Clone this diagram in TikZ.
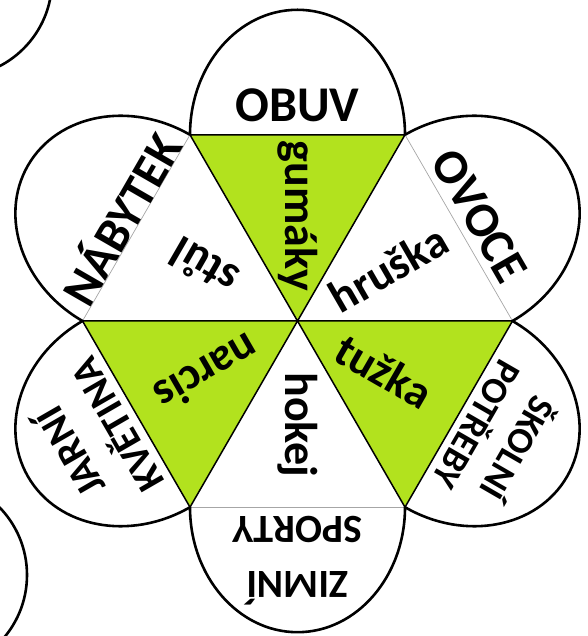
\documentclass[tikz,border=0pt]{standalone}
\usepackage{fontspec}
\setmainfont{Carlito}
\usetikzlibrary{calc}
\definecolor{leaf}{RGB}{178,226,30}
\begin{document}
\begin{tikzpicture}[x=1pt,y=1pt,
  petal/.style={line width=2.6pt},
  spoke/.style={line width=1.5pt},
  rim/.style={line width=0.7pt, draw=gray!70},
  cat/.style={align=center, inner sep=0pt, transform shape},
  word/.style={font=\bfseries\fontsize{46}{50}\selectfont, inner sep=0pt}]
\useasboundingbox (0,0) rectangle (587,636);
\coordinate (C) at (297.5,315);
\foreach \a/\n in {0/R,60/TR,120/TL,180/L,240/BL,300/BR}
  \coordinate (\n) at ($(C)+(\a:215)$);
% green triangles
\fill[leaf] (C) -- (TL) -- (TR) -- cycle;
\fill[leaf] (C) -- (L) -- (BL) -- cycle;
\fill[leaf] (C) -- (R) -- (BR) -- cycle;
% outer edges of white triangles
\draw[rim] (TL) -- (L);
\draw[rim] (TR) -- (R);
\draw[rim] (BL) -- (BR);
% green triangle outlines
\draw[spoke] (C) -- (TL) -- (TR) -- cycle;
\draw[spoke] (C) -- (L) -- (BL) -- cycle;
\draw[spoke] (C) -- (R) -- (BR) -- cycle;
% petals and their labels
\foreach \r/\t/\o/\s/\b in {0/OBUV/30/50/50, 60/NÁBYTEK/20/49/50, -60/OVOCE/24/49/50,
    -120/{ŠKOLNÍ\\POTŘEBY}/47/37/47, 180/{ZIMNÍ\\SPORTY}/53/40/55, 120/{JARNÍ\\KVĚTINA}/52/40/54}{
  \begin{scope}[shift={(297.5,315)}, rotate=\r]
    \draw[petal] (60:215) arc[start angle=0, end angle=180, x radius=107.5, y radius=125];
    \node[cat, font=\bfseries\fontsize{\s}{\b}\selectfont] (p\r) at (0,186.2+\o) {\t};
  \end{scope}
}
% words in the triangles
\node[word, rotate=-90] (w1) at ($(C)+(90:105)$) {gumáky};
\node[word, rotate=30] (w2) at ($(C)+(30:105)$) {hruška};
\node[word, rotate=-30] (w3) at ($(C)+(-30:100)$) {tužka};
\node[word, rotate=-90] (w4) at ($(C)+(-90:104)$) {hokej};
\node[word, rotate=-150] (w5) at ($(C)+(-150:104)$) {narcis};
\node[word, rotate=150] (w6) at ($(C)+(150:108)$) {stůl};
% parts of neighbouring flowers
\draw[petal] (-45,656) circle[radius=97];
\draw[petal] (-70,61) circle[radius=97];
\end{tikzpicture}
\end{document}
